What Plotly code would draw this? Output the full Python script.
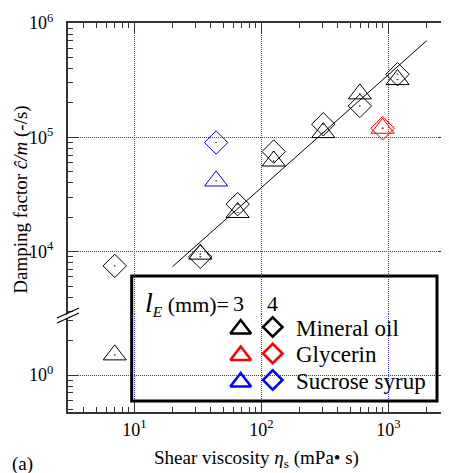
import math
import plotly.graph_objects as go

# ---------------- data ----------------
X_TICK_VALS = [10, 100, 1000]
X_TICK_TEXT = ["10<sup>1</sup>", "10<sup>2</sup>", "10<sup>3</sup>"]
Y_UP_TICK_VALS = [1e4, 1e5, 1e6]
Y_UP_TICK_TEXT = ["10<sup>4</sup>", "10<sup>5</sup>", "10<sup>6</sup>"]
Y_LOW_TICK_VALS = [1]
Y_LOW_TICK_TEXT = ["10<sup>0</sup>"]

MINERAL_X = [7, 33, 65, 125, 307, 596, 1180]
MINERAL_TRI_Y = [1.5, 9.5e3, 2.2e4, 6.2e4, 1.1e5, 2.4e5, 3.2e5]
MINERAL_DIA_Y = [7.5e3, 9.0e3, 2.6e4, 7.5e4, 1.3e5, 1.88e5, 3.56e5]
GLYCERIN_X = [900]
GLYCERIN_TRI_Y = [1.2e5]
GLYCERIN_DIA_Y = [1.2e5]
SUCROSE_X = [44]
SUCROSE_TRI_Y = [4.15e4]
SUCROSE_DIA_Y = [9.0e4]
FIT_X = [20, 2000]
FIT_Y = [7.4e3, 7.0e5]

LEGEND_LABELS = ["Mineral oil", "Glycerin", "Sucrose syrup"]
LEGEND_COLORS = ["black", "#ff0000", "#0000ff"]
LE_VALUES = ["3", "4"]

# ---------------- geometry (window pixels; page body has an 8px margin) ----------------
BODY = 8
WIN_W, WIN_H = 449, 473
W, H = WIN_W - BODY, WIN_H - BODY
PLOT_L, PLOT_R, PLOT_T, PLOT_B = 68, 449, 23, 412
ML, MR = PLOT_L - BODY, (W + BODY) - PLOT_R
MT, MB = PLOT_T - BODY, (H + BODY) - PLOT_B
PW, PH = PLOT_R - PLOT_L, PLOT_B - PLOT_T
PX_DEC_Y = 114.3
BREAK_PX = 314
split = (PLOT_B - BREAK_PX) / PH
up_lo = 6 - (BREAK_PX - PLOT_T) / PX_DEC_Y
low_lo = -(PLOT_B - 375) / PX_DEC_Y
low_hi = low_lo + (PLOT_B - BREAK_PX) / PX_DEC_Y


def px_x(px):
    return (px - PLOT_L) / PW


def px_y(py):
    return (PLOT_B - py) / PH


FONT = "Liberation Serif, Times New Roman, serif"
AXC = "#333333"
GRIDC = "#3a3aff"

fig = go.Figure()


def add_series(x, y, symbol, size, color):
    for xa, ya in (("x", "y"), ("x2", "y2")):
        fig.add_trace(go.Scatter(
            x=x, y=y, mode="markers", xaxis=xa, yaxis=ya, showlegend=False,
            cliponaxis=True,
            marker=dict(symbol=symbol, size=size, color=color,
                        line=dict(color=color, width=1))))


fig.add_trace(go.Scatter(x=FIT_X, y=FIT_Y, mode="lines", xaxis="x2", yaxis="y2",
                         line=dict(color="black", width=1), showlegend=False))

add_series(MINERAL_X, MINERAL_TRI_Y, "triangle-up-open-dot", 20, "black")
add_series(MINERAL_X, MINERAL_DIA_Y, "diamond-open-dot", 18, "black")
add_series(GLYCERIN_X, GLYCERIN_TRI_Y, "triangle-up-open-dot", 20, "#ff0000")
add_series(GLYCERIN_X, GLYCERIN_DIA_Y, "diamond-open-dot", 18, "#ff0000")
add_series(SUCROSE_X, SUCROSE_TRI_Y, "triangle-up-open-dot", 20, "#0000ff")
add_series(SUCROSE_X, SUCROSE_DIA_Y, "diamond-open-dot", 18, "#0000ff")

# legend keys on an overlay axis in plot-area fractions
row_py = [327, 353.5, 380]
for color, py in zip(LEGEND_COLORS, row_py):
    fig.add_trace(go.Scatter(x=[px_x(240.7)], y=[px_y(py + 2)], xaxis="x3", yaxis="y3",
                             mode="markers", showlegend=False,
                             marker=dict(symbol="triangle-up-open", size=18, color=color,
                                         line=dict(color=color, width=2.5))))
    fig.add_trace(go.Scatter(x=[px_x(272.7)], y=[px_y(py)], xaxis="x3", yaxis="y3",
                             mode="markers", showlegend=False,
                             marker=dict(symbol="diamond-open", size=15, color=color,
                                         line=dict(color=color, width=2.5))))

minor = dict(ticks="inside", ticklen=5, tickwidth=1, tickcolor=AXC, dtick="D1", showgrid=False)
common_x = dict(type="log", range=[math.log10(3), math.log10(3000)], showgrid=True,
                gridcolor=GRIDC, griddash="1px,1px", gridwidth=1, ticks="inside",
                ticklen=10, tickwidth=1, tickcolor=AXC, showline=True, linecolor=AXC,
                linewidth=2, minor=minor, zeroline=False, automargin=False)
common_y = dict(type="log", showgrid=True, gridcolor=GRIDC, griddash="1px,1px", gridwidth=1,
                ticks="inside", ticklen=10, tickwidth=1, tickcolor=AXC, showline=True,
                linecolor=AXC, linewidth=2, mirror="ticks", minor=minor, zeroline=False,
                automargin=False, ticklabelstandoff=9,
                tickfont=dict(family=FONT, size=18, color="black"))

fig.update_layout(
    width=W, height=H, margin=dict(l=ML, r=MR, t=MT, b=MB, autoexpand=False),
    paper_bgcolor="white", plot_bgcolor="rgba(0,0,0,0)",
    font=dict(family=FONT, size=18, color="black"),
    xaxis=dict(common_x, anchor="y", tickvals=X_TICK_VALS, ticktext=X_TICK_TEXT,
               tickfont=dict(family=FONT, size=18, color="black")),
    xaxis2=dict(common_x, anchor="y2", side="top", matches="x", showticklabels=False,
                tickvals=X_TICK_VALS),
    yaxis=dict(common_y, anchor="x", domain=[0, split], range=[low_lo, low_hi],
               tickvals=Y_LOW_TICK_VALS, ticktext=Y_LOW_TICK_TEXT),
    yaxis2=dict(common_y, anchor="x2", domain=[split, 1], range=[up_lo, 6.0001],
                tickvals=Y_UP_TICK_VALS, ticktext=Y_UP_TICK_TEXT),
    xaxis3=dict(domain=[0, 1], range=[0, 1], anchor="y3", visible=False, fixedrange=True),
    yaxis3=dict(domain=[0, 1], range=[0, 1], anchor="x3", visible=False, fixedrange=True),
)

shapes = [
    # legend box
    dict(type="rect", xref="paper", yref="paper", x0=px_x(131.7), x1=px_x(437),
         y0=px_y(401), y1=px_y(276), line=dict(color="black", width=3), fillcolor="rgba(0,0,0,0)"),
    # axis break marks
    dict(type="line", xref="paper", yref="paper", x0=px_x(58), y0=px_y(320.5), x1=px_x(78),
         y1=px_y(311.5), line=dict(color="white", width=4)),
    dict(type="line", xref="paper", yref="paper", x0=px_x(57), y0=px_y(323), x1=px_x(79),
         y1=px_y(313), line=dict(color="black", width=1.3)),
    dict(type="line", xref="paper", yref="paper", x0=px_x(57), y0=px_y(318), x1=px_x(79),
         y1=px_y(308), line=dict(color="black", width=1.3)),
]
fig.update_layout(shapes=shapes)

ann = [
    dict(text="Damping factor <i>ĉ/m</i> (-/s)", x=px_x(21), y=px_y(199.7), textangle=-90,
         font=dict(family=FONT, size=19)),
    dict(text="Shear viscosity <i>η</i><sub>s</sub> (mPa• s)", x=px_x(256.5), y=px_y(459),
         font=dict(family=FONT, size=19)),
    dict(text="(a)", x=px_x(22.5), y=px_y(464), font=dict(family=FONT, size=19)),
    dict(text="<span style='font-size:28px'><i>l</i></span><sub><i>E</i></sub> (mm)=",
         x=px_x(143), y=px_y(303), xanchor="left", font=dict(family=FONT, size=22)),
    dict(text=LE_VALUES[0], x=px_x(238), y=px_y(303), font=dict(family=FONT, size=22)),
    dict(text=LE_VALUES[1], x=px_x(272.7), y=px_y(303), font=dict(family=FONT, size=22)),
]
for lab, py in zip(LEGEND_LABELS, row_py):
    ann.append(dict(text=lab, x=px_x(294), y=px_y(py + 1), xanchor="left",
                    font=dict(family=FONT, size=23)))
for a in ann:
    a.setdefault("xanchor", "center")
    a.update(xref="paper", yref="paper", showarrow=False, yanchor="middle")
fig.update_layout(annotations=ann)

fig.write_html("out.html")
